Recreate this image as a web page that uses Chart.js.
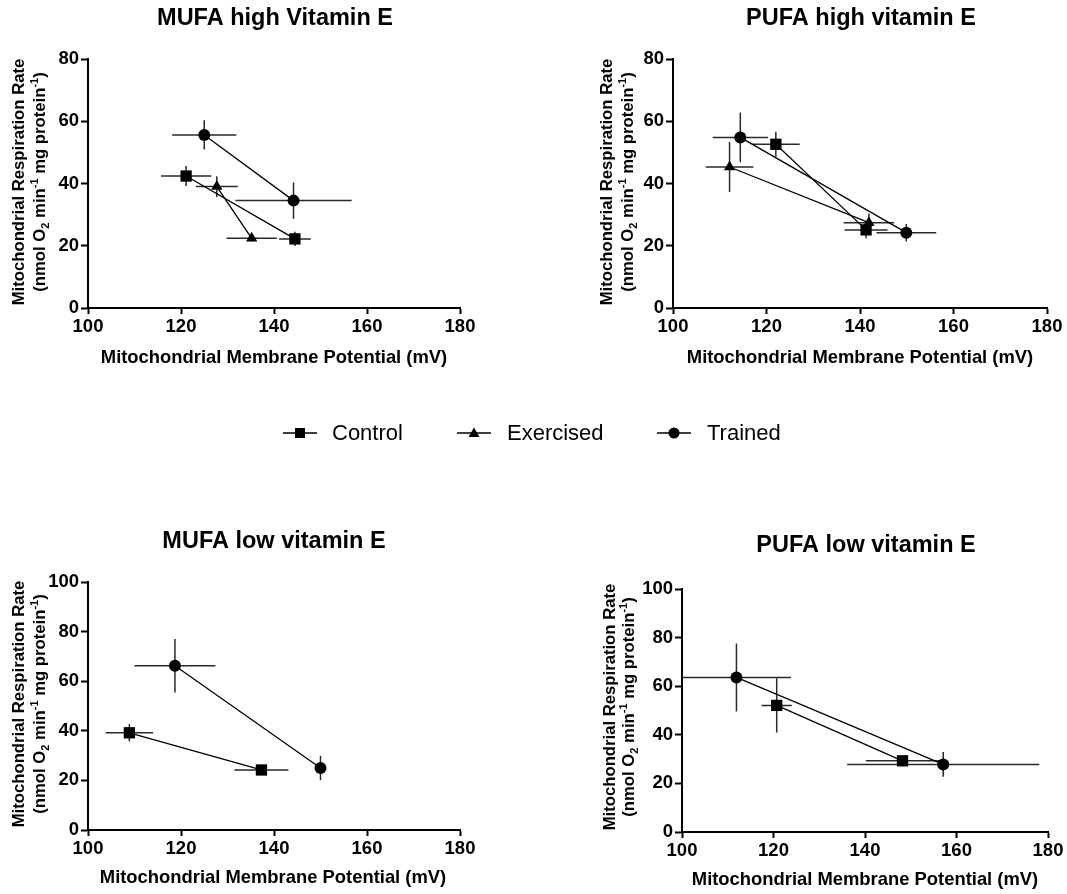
<!DOCTYPE html>
<html>
<head>
<meta charset="utf-8">
<script src="https://cdn.jsdelivr.net/npm/chart.js@4.4.1/dist/chart.umd.min.js"></script>
<style>
html, body { margin: 0; padding: 0; background: #fff; }
#wrap { position: relative; width: 1067px; height: 894px; overflow: hidden; background: #fff; }
canvas.full { position: absolute; left: 0; top: 0; }
.lgItem { position: absolute; height: 30px; line-height: 30px; font-family: "Liberation Sans", Arial, Helvetica, sans-serif; font-size: 22px; color: #000; white-space: nowrap; }
.lgIcon { position: absolute; }
</style>
</head>
<body>
<div id="wrap">
  <canvas id="c1" class="full" width="1067" height="894"></canvas>
  <canvas id="c2" class="full" width="1067" height="894"></canvas>
  <canvas id="c3" class="full" width="1067" height="894"></canvas>
  <canvas id="c4" class="full" width="1067" height="894"></canvas>
  <div id="legend"></div>
</div>
<script>
// ================= DATA =================
const xTickValues = [100, 120, 140, 160, 180];
const yTickValuesHigh = [0, 20, 40, 60, 80];
const yTickValuesLow = [0, 20, 40, 60, 80, 100];
const seriesNames = ['Control', 'Exercised', 'Trained'];
const panelTitles = ['MUFA high Vitamin E', 'PUFA high vitamin E', 'MUFA low vitamin E', 'PUFA low vitamin E'];
const xAxisTitle = 'Mitochondrial Membrane Potential (mV)';
const yAxisTitleLine1 = 'Mitochondrial Respiration Rate';
const yAxisTitleLine2 = [['(nmol O', ''], ['2', 'sub'], [' min', ''], ['-1', 'sup'], [' mg protein', ''], ['-1', 'sup'], [')', '']];

// MUFA high vitamin E
const mufaHighControlX = [121.1, 144.5];
const mufaHighControlY = [42.4, 22.2];
const mufaHighControlXErr = [5.4, 3.4];
const mufaHighControlYErr = [3.2, 2.3];
const mufaHighExercisedX = [127.7, 135.2];
const mufaHighExercisedY = [39.0, 22.4];
const mufaHighExercisedXErr = [4.5, 5.4];
const mufaHighExercisedYErr = [3.3, 1.0];
const mufaHighTrainedX = [125.0, 144.2];
const mufaHighTrainedY = [55.6, 34.5];
const mufaHighTrainedXErr = [6.9, 12.5];
const mufaHighTrainedYErr = [4.7, 5.8];

// PUFA high vitamin E
const pufaHighControlX = [122.0, 141.3];
const pufaHighControlY = [52.6, 25.1];
const pufaHighControlXErr = [5.1, 4.6];
const pufaHighControlYErr = [4.0, 2.7];
const pufaHighExercisedX = [112.1, 141.9];
const pufaHighExercisedY = [45.3, 27.4];
const pufaHighExercisedXErr = [5.1, 5.4];
const pufaHighExercisedYErr = [8.0, 3.0];
const pufaHighTrainedX = [114.4, 149.9];
const pufaHighTrainedY = [54.8, 24.2];
const pufaHighTrainedXErr = [5.9, 6.4];
const pufaHighTrainedYErr = [8.0, 2.8];

// MUFA low vitamin E
const mufaLowControlX = [108.9, 137.3];
const mufaLowControlY = [39.2, 24.2];
const mufaLowControlXErr = [5.1, 5.8];
const mufaLowControlYErr = [3.5, 1.0];
const mufaLowTrainedX = [118.7, 150.0];
const mufaLowTrainedY = [66.2, 25.0];
const mufaLowTrainedXErr = [8.7, 0.8];
const mufaLowTrainedYErr = [10.8, 4.9];

// PUFA low vitamin E
const pufaLowControlX = [120.7, 148.2];
const pufaLowControlY = [52.1, 29.3];
const pufaLowControlXErr = [3.3, 8.0];
const pufaLowControlYErr = [11.2, 1.0];
const pufaLowTrainedX = [111.9, 157.1];
const pufaLowTrainedY = [63.6, 27.8];
const pufaLowTrainedXErr = [11.9, 21.0];
const pufaLowTrainedYErr = [14.0, 5.1];

// ================= STYLE / LAYOUT =================
const FONT = '"Liberation Sans", Arial, Helvetica, sans-serif';
const W = 1067, H = 894, YW = 60, XH = 40;
const markerStyles = {
  Control: { pointStyle: 'rect', radius: 8 },
  Exercised: { pointStyle: 'triangle', radius: 6.5 },
  Trained: { pointStyle: 'circle', radius: 6 }
};
const panelGeo = [
  { L: 88,  T: 59,  R: 460,  B: 308, titleX: 275, titleY: 19,    xtX: 274, xtY: 358,   y1: 19.5,  y2: 40.5,  yc: 182 },
  { L: 673, T: 59,  R: 1047, B: 308, titleX: 861, titleY: 19,    xtX: 860, xtY: 357.5, y1: 607,   y2: 628.5, yc: 182 },
  { L: 88,  T: 582, R: 460,  B: 830, titleX: 274, titleY: 542,   xtX: 273, xtY: 878,   y1: 19.5,  y2: 40.5,  yc: 704 },
  { L: 682, T: 589, R: 1048, B: 832, titleX: 866, titleY: 545.5, xtX: 865, xtY: 880,   y1: 610,   y2: 629.5, yc: 707 }
];

function mkSeries(name, xs, ys, xe, ye) {
  return { name, xs, ys, xe, ye };
}
const panels = [
  { title: panelTitles[0], yTicks: yTickValuesHigh, series: [
    mkSeries('Control', mufaHighControlX, mufaHighControlY, mufaHighControlXErr, mufaHighControlYErr),
    mkSeries('Exercised', mufaHighExercisedX, mufaHighExercisedY, mufaHighExercisedXErr, mufaHighExercisedYErr),
    mkSeries('Trained', mufaHighTrainedX, mufaHighTrainedY, mufaHighTrainedXErr, mufaHighTrainedYErr)
  ]},
  { title: panelTitles[1], yTicks: yTickValuesHigh, series: [
    mkSeries('Control', pufaHighControlX, pufaHighControlY, pufaHighControlXErr, pufaHighControlYErr),
    mkSeries('Exercised', pufaHighExercisedX, pufaHighExercisedY, pufaHighExercisedXErr, pufaHighExercisedYErr),
    mkSeries('Trained', pufaHighTrainedX, pufaHighTrainedY, pufaHighTrainedXErr, pufaHighTrainedYErr)
  ]},
  { title: panelTitles[2], yTicks: yTickValuesLow, series: [
    mkSeries('Control', mufaLowControlX, mufaLowControlY, mufaLowControlXErr, mufaLowControlYErr),
    mkSeries('Trained', mufaLowTrainedX, mufaLowTrainedY, mufaLowTrainedXErr, mufaLowTrainedYErr)
  ]},
  { title: panelTitles[3], yTicks: yTickValuesLow, series: [
    mkSeries('Control', pufaLowControlX, pufaLowControlY, pufaLowControlXErr, pufaLowControlYErr),
    mkSeries('Trained', pufaLowTrainedX, pufaLowTrainedY, pufaLowTrainedXErr, pufaLowTrainedYErr)
  ]}
];

// ================= PLUGINS =================
const errorBarPlugin = {
  id: 'errorBars',
  beforeDatasetsDraw(chart) {
    const { ctx, chartArea } = chart;
    const xs = chart.scales.x, ys = chart.scales.y;
    ctx.save();
    ctx.beginPath();
    ctx.rect(chartArea.left, chartArea.top - 30, chartArea.right - chartArea.left + 30, chartArea.bottom - chartArea.top + 30);
    ctx.clip();
    ctx.strokeStyle = '#2a2a2a';
    ctx.lineWidth = 1.5;
    chart.data.datasets.forEach(ds => {
      ds.data.forEach((p, i) => {
        const px = xs.getPixelForValue(p.x), py = ys.getPixelForValue(p.y);
        const xe = ds.xErr[i], ye = ds.yErr[i];
        ctx.beginPath();
        ctx.moveTo(xs.getPixelForValue(p.x - xe), py);
        ctx.lineTo(xs.getPixelForValue(p.x + xe), py);
        ctx.moveTo(px, ys.getPixelForValue(p.y - ye));
        ctx.lineTo(px, ys.getPixelForValue(p.y + ye));
        ctx.stroke();
      });
    });
    ctx.restore();
  }
};

function drawSegments(ctx, segs, size) {
  const small = size * 0.66;
  const fMain = 'bold ' + size + 'px ' + FONT;
  const fSmall = 'bold ' + small + 'px ' + FONT;
  let total = 0;
  segs.forEach(s => { ctx.font = s[1] ? fSmall : fMain; total += ctx.measureText(s[0]).width; });
  let x = -total / 2;
  ctx.textAlign = 'left';
  ctx.textBaseline = 'middle';
  segs.forEach(s => {
    ctx.font = s[1] ? fSmall : fMain;
    const dy = s[1] === 'sub' ? size * 0.32 : (s[1] === 'sup' ? -size * 0.34 : 0);
    ctx.fillText(s[0], x, dy);
    x += ctx.measureText(s[0]).width;
  });
}

const textPlugin = {
  id: 'panelText',
  afterDraw(chart, args, opts) {
    const ctx = chart.ctx, g = opts.geo;
    ctx.save();
    ctx.fillStyle = '#000';
    ctx.textAlign = 'center';
    ctx.textBaseline = 'middle';
    ctx.font = 'bold 23.5px ' + FONT;
    ctx.fillText(opts.title, g.titleX, g.titleY);
    ctx.font = 'bold 18.4px ' + FONT;
    ctx.fillText(xAxisTitle, g.xtX, g.xtY);
    ctx.restore();
    ctx.save();
    ctx.fillStyle = '#000';
    ctx.translate(g.y1, g.yc);
    ctx.rotate(-Math.PI / 2);
    ctx.textAlign = 'center';
    ctx.textBaseline = 'middle';
    ctx.font = 'bold 16.7px ' + FONT;
    ctx.fillText(yAxisTitleLine1, 0, 0);
    ctx.restore();
    ctx.save();
    ctx.fillStyle = '#000';
    ctx.translate(g.y2, g.yc);
    ctx.rotate(-Math.PI / 2);
    drawSegments(ctx, yAxisTitleLine2, 16.7);
    ctx.restore();
  }
};

// ================= CHARTS =================
function axisCommon(tickLen) {
  return {
    type: 'linear',
    grid: { display: true, drawOnChartArea: false, drawTicks: true, tickLength: tickLen, tickWidth: 2, tickColor: '#000', color: '#000' },
    border: { display: true, color: '#000', width: 2 },
    ticks: { color: '#000', font: { family: FONT, size: 18.5, weight: 'bold' }, padding: 2, maxRotation: 0, autoSkip: false }
  };
}

panels.forEach((panel, idx) => {
  const g = panelGeo[idx];
  const datasets = panel.series.map(s => {
    const m = markerStyles[s.name];
    return {
      label: s.name,
      data: s.xs.map((v, i) => ({ x: v, y: s.ys[i] })),
      xErr: s.xe,
      yErr: s.ye,
      showLine: true,
      borderColor: '#000',
      borderWidth: 1.3,
      backgroundColor: '#000',
      pointStyle: m.pointStyle,
      pointRadius: m.radius,
      pointHoverRadius: m.radius,
      pointBorderWidth: 0,
      pointBackgroundColor: '#000',
      clip: false
    };
  });
  const yTicks = panel.yTicks;
  const xScale = Object.assign(axisCommon(6), {
    min: xTickValues[0], max: xTickValues[xTickValues.length - 1],
    afterBuildTicks: s => { s.ticks = xTickValues.map(v => ({ value: v })); },
    afterFit: s => { s.height = XH; }
  });
  const yScale = Object.assign(axisCommon(7), {
    min: yTicks[0], max: yTicks[yTicks.length - 1],
    afterBuildTicks: s => { s.ticks = yTicks.map(v => ({ value: v })); },
    afterFit: s => { s.width = YW; }
  });
  new Chart(document.getElementById('c' + (idx + 1)), {
    type: 'scatter',
    data: { datasets },
    options: {
      responsive: false,
      animation: false,
      events: [],
      layout: { padding: { left: g.L - YW, top: g.T, right: W - g.R, bottom: H - g.B - XH } },
      plugins: {
        legend: { display: false },
        tooltip: { enabled: false },
        panelText: { title: panel.title, geo: g }
      },
      scales: { x: xScale, y: yScale }
    },
    plugins: [errorBarPlugin, textPlugin]
  });
});

// ================= LEGEND (HTML) =================
const legendPos = [
  { icon: 283, text: 332 },
  { icon: 457, text: 507 },
  { icon: 657, text: 707 }
];
const legendY = 433;
const lg = document.getElementById('legend');
seriesNames.forEach((name, i) => {
  const p = legendPos[i];
  const svgNS = 'http://www.w3.org/2000/svg';
  const svg = document.createElementNS(svgNS, 'svg');
  svg.setAttribute('width', '34'); svg.setAttribute('height', '20');
  svg.setAttribute('class', 'lgIcon');
  svg.style.left = p.icon + 'px';
  svg.style.top = (legendY - 10) + 'px';
  const line = document.createElementNS(svgNS, 'line');
  line.setAttribute('x1', '0'); line.setAttribute('x2', '34');
  line.setAttribute('y1', '10'); line.setAttribute('y2', '10');
  line.setAttribute('stroke', '#000'); line.setAttribute('stroke-width', '1.6');
  svg.appendChild(line);
  let shape;
  if (markerStyles[name].pointStyle === 'rect') {
    shape = document.createElementNS(svgNS, 'rect');
    shape.setAttribute('x', '12'); shape.setAttribute('y', '5');
    shape.setAttribute('width', '10'); shape.setAttribute('height', '10');
  } else if (markerStyles[name].pointStyle === 'triangle') {
    shape = document.createElementNS(svgNS, 'polygon');
    shape.setAttribute('points', '17,4.5 22.5,14 11.5,14');
  } else {
    shape = document.createElementNS(svgNS, 'circle');
    shape.setAttribute('cx', '17'); shape.setAttribute('cy', '10'); shape.setAttribute('r', '5.5');
  }
  shape.setAttribute('fill', '#000');
  svg.appendChild(shape);
  lg.appendChild(svg);
  const t = document.createElement('div');
  t.className = 'lgItem';
  t.textContent = name;
  t.style.left = p.text + 'px';
  t.style.top = (legendY - 15) + 'px';
  lg.appendChild(t);
});
</script>
</body>
</html>
